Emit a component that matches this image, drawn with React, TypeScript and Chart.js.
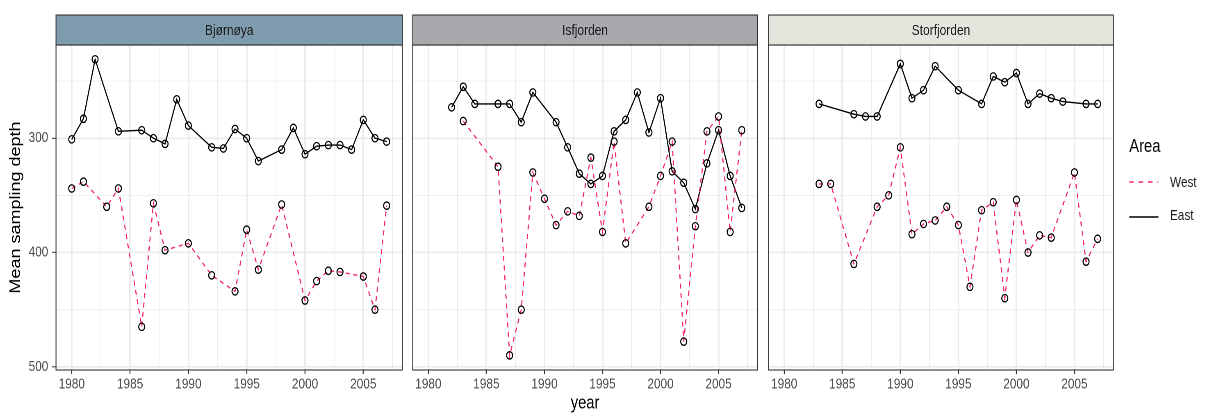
import React, { useEffect, useRef } from "react";
import { Chart, registerables } from "chart.js";

Chart.register(...registerables);

// The reference figure is horizontally squeezed; we draw in a wider virtual space and scale it.
const SQUEEZE = 0.82;
const VIRTUAL_WIDTH = 1207 / SQUEEZE;
const FONT = "'Liberation Sans', Arial, Helvetica, sans-serif";

// Axis ticks / grid positions
const xGridYears = [1980, 1982.5, 1985, 1987.5, 1990, 1992.5, 1995, 1997.5, 2000, 2002.5, 2005, 2007.5];
const yGridDepths = [250, 300, 350, 400, 450, 500];
const xRange = [1978.65, 2008.35];
const yRange = [218.5, 502.8];

// Bjørnøya
const bjornoyaEastYears = [1980, 1981, 1982, 1984, 1986, 1987, 1988, 1989, 1990, 1992, 1993, 1994, 1995, 1996, 1998, 1999, 2000, 2001, 2002, 2003, 2004, 2005, 2006, 2007];
const bjornoyaEastDepth = [301, 283, 231, 294, 293, 300, 305, 266, 289, 308, 309, 292, 300, 320, 310, 291, 314, 307, 306, 306, 310, 284, 300, 303];
const bjornoyaWestYears = [1980, 1981, 1983, 1984, 1986, 1987, 1988, 1990, 1992, 1994, 1995, 1996, 1998, 2000, 2001, 2002, 2003, 2005, 2006, 2007];
const bjornoyaWestDepth = [344, 338, 360, 344, 465, 357, 398, 392, 420, 434, 380, 415, 358, 442, 425, 416, 417, 421, 450, 359];

// Isfjorden
const isfjordenEastYears = [1982, 1983, 1984, 1986, 1987, 1988, 1989, 1991, 1992, 1993, 1994, 1995, 1996, 1997, 1998, 1999, 2000, 2001, 2002, 2003, 2004, 2005, 2006, 2007];
const isfjordenEastDepth = [273, 255, 270, 270, 270, 286, 260, 286, 308, 331, 340, 333, 294, 284, 260, 295, 265, 329, 339, 362, 322, 293, 333, 361];
const isfjordenWestYears = [1983, 1986, 1987, 1988, 1989, 1990, 1991, 1992, 1993, 1994, 1995, 1996, 1997, 1999, 2000, 2001, 2002, 2003, 2004, 2005, 2006, 2007];
const isfjordenWestDepth = [285, 325, 490, 450, 330, 353, 376, 364, 368, 317, 382, 303, 392, 360, 333, 303, 478, 377, 294, 281, 382, 293];

// Storfjorden
const storfjordenEastYears = [1983, 1986, 1987, 1988, 1990, 1991, 1992, 1993, 1995, 1997, 1998, 1999, 2000, 2001, 2002, 2003, 2004, 2006, 2007];
const storfjordenEastDepth = [270, 279, 281, 281, 235, 265, 258, 237, 258, 270, 246, 251, 243, 270, 261, 265, 268, 270, 270];
const storfjordenWestYears = [1983, 1984, 1986, 1988, 1989, 1990, 1991, 1992, 1993, 1994, 1995, 1996, 1997, 1998, 1999, 2000, 2001, 2002, 2003, 2005, 2006, 2007];
const storfjordenWestDepth = [340, 340, 410, 360, 350, 308, 384, 375, 372, 360, 376, 430, 363, 356, 440, 354, 400, 385, 387, 330, 408, 388];

const WEST_COLOR = "#f5245d";
const EAST_COLOR = "#000000";
const TICK_TEXT = "#4d4d4d";
const GRID = "#ebebeb";

const isMajorX = (v: number) => Math.abs(v % 5) < 1e-6;
const isMajorY = (v: number) => Math.abs(v % 100) < 1e-6;
const toPoints = (years: number[], depths: number[]) => years.map((x, i) => ({ x, y: depths[i] }));

const facetPlugin = {
  id: "facetStrip",
  beforeDraw(chart: any, _args: any, opts: any) {
    const { ctx, chartArea: a } = chart;
    ctx.save();
    ctx.fillStyle = opts.fill;
    ctx.fillRect(a.left, a.top - 30, a.right - a.left, 30);
    ctx.restore();
  },
  afterDraw(chart: any) {
    const { ctx, chartArea: a } = chart;
    ctx.save();
    ctx.strokeStyle = "#333333";
    ctx.lineWidth = 1.1;
    ctx.strokeRect(a.left, a.top - 30, a.right - a.left, 30);
    ctx.strokeRect(a.left, a.top, a.right - a.left, a.bottom - a.top);
    ctx.restore();
  },
};

type PanelProps = {
  label: string;
  stripColor: string;
  eastYears: number[];
  eastDepth: number[];
  westYears: number[];
  westDepth: number[];
  showY: boolean;
  showXTitle: boolean;
  left: number;
  width: number;
  padLeft: number;
  padRight: number;
};

function FacetPanel(p: PanelProps) {
  const ref = useRef<HTMLCanvasElement>(null);
  useEffect(() => {
    if (!ref.current) return;
    const pointStyle = {
      showLine: false,
      pointRadius: 3.7,
      pointBorderWidth: 1.3,
      pointBorderColor: "#000000",
      pointBackgroundColor: "rgba(0,0,0,0)",
      borderColor: "#000000",
    };
    const chart = new Chart(ref.current, {
      type: "line",
      data: {
        datasets: [
          { label: "East pts", data: toPoints(p.eastYears, p.eastDepth), ...pointStyle },
          { label: "West pts", data: toPoints(p.westYears, p.westDepth), ...pointStyle },
          {
            label: "West",
            data: toPoints(p.westYears, p.westDepth),
            borderColor: WEST_COLOR,
            borderWidth: 1.35,
            borderDash: [5, 4.5],
            pointRadius: 0,
            fill: false,
            tension: 0,
          },
          {
            label: "East",
            data: toPoints(p.eastYears, p.eastDepth),
            borderColor: EAST_COLOR,
            borderWidth: 1.35,
            pointRadius: 0,
            fill: false,
            tension: 0,
          },
        ] as any,
      },
      plugins: [facetPlugin],
      options: {
        animation: false,
        responsive: false,
        devicePixelRatio: 2,
        events: [],
        layout: { padding: { top: 15, bottom: 0, left: p.padLeft, right: p.padRight } },
        font: { family: FONT },
        plugins: {
          legend: { display: false },
          tooltip: { enabled: false },
          title: {
            display: true,
            text: p.label,
            fullSize: false,
            color: "#1a1a1a",
            font: { family: FONT, size: 14.6, weight: "normal" },
            padding: { top: 7.3, bottom: 5.2 },
          },
          facetStrip: { fill: p.stripColor },
        } as any,
        scales: {
          x: {
            type: "linear",
            min: xRange[0],
            max: xRange[1],
            afterBuildTicks: (s: any) => {
              s.ticks = xGridYears.map((v) => ({ value: v }));
            },
            afterFit: (s: any) => {
              s.height = 45;
            },
            ticks: {
              autoSkip: false,
              maxRotation: 0,
              color: TICK_TEXT,
              font: { family: FONT, size: 14.4 },
              padding: 2,
              callback: (v: any) => (isMajorX(Number(v)) ? String(v) : ""),
            },
            grid: {
              color: GRID,
              lineWidth: (c: any) => (c.tick && isMajorX(c.tick.value) ? 1.9 : 0.95),
              tickLength: 4,
              tickWidth: 1.2,
              tickColor: (c: any) => (c.tick && isMajorX(c.tick.value) ? "#333333" : "rgba(0,0,0,0)"),
            },
            border: { display: false },
            title: {
              display: p.showXTitle,
              text: "year",
              color: "#000000",
              font: { family: FONT, size: 18 },
              padding: { top: 0, bottom: 0.6 },
            },
          },
          y: {
            type: "linear",
            reverse: true,
            min: yRange[0],
            max: yRange[1],
            afterBuildTicks: (s: any) => {
              s.ticks = yGridDepths.map((v) => ({ value: v }));
            },
            afterFit: (s: any) => {
              s.width = p.showY ? 56 / SQUEEZE : 0;
            },
            ticks: {
              display: p.showY,
              autoSkip: false,
              color: TICK_TEXT,
              font: { family: FONT, size: 14.4 },
              padding: 4.5,
              callback: (v: any) => (isMajorY(Number(v)) ? String(v) : ""),
            },
            grid: {
              color: GRID,
              lineWidth: (c: any) => (c.tick && isMajorY(c.tick.value) ? 1.6 : 0.8),
              drawTicks: p.showY,
              tickLength: 4 / SQUEEZE,
              tickWidth: 1,
              tickColor: (c: any) => (c.tick && isMajorY(c.tick.value) ? "#333333" : "rgba(0,0,0,0)"),
            },
            border: { display: false },
            title: {
              display: p.showY,
              text: "Mean sampling depth",
              color: "#000000",
              font: { family: FONT, size: 18 },
              padding: { top: 8.5, bottom: 0 },
            },
          },
        },
      } as any,
    });
    return () => chart.destroy();
  }, []);
  return (
    <canvas
      ref={ref}
      width={p.width}
      height={415}
      style={{ position: "absolute", left: p.left, top: 0, width: p.width, height: 415 }}
    />
  );
}

function LegendKey({ dashed, color, top }: { dashed: boolean; color: string; top: number }) {
  return (
    <svg
      width={36}
      height={10}
      style={{ position: "absolute", left: 1377.2, top: top - 5 }}
    >
      <line
        x1={0}
        y1={5}
        x2={36}
        y2={5}
        stroke={color}
        strokeWidth={1.5}
        strokeDasharray={dashed ? "5.5 6" : undefined}
      />
    </svg>
  );
}

export default function App() {
  const PW = 423;
  return (
    <div
      style={{
        position: "fixed",
        left: 0,
        top: 0,
        width: 1207,
        height: 415,
        overflow: "hidden",
        background: "#ffffff",
      }}
    >
      <div
        style={{
          position: "absolute",
          left: 0,
          top: 0,
          width: VIRTUAL_WIDTH,
          height: 415,
          transform: `scaleX(${SQUEEZE})`,
          transformOrigin: "0 0",
          fontFamily: FONT,
        }}
      >
        <FacetPanel
          label="Bjørnøya"
          stripColor="#7f9cae"
          eastYears={bjornoyaEastYears}
          eastDepth={bjornoyaEastDepth}
          westYears={bjornoyaWestYears}
          westDepth={bjornoyaWestDepth}
          showY={true}
          showXTitle={false}
          left={0}
          width={496}
          padLeft={0}
          padRight={496 - 56 / SQUEEZE - PW}
        />
        <FacetPanel
          label="Isfjorden"
          stripColor="#a8a9ad"
          eastYears={isfjordenEastYears}
          eastDepth={isfjordenEastDepth}
          westYears={isfjordenWestYears}
          westDepth={isfjordenWestDepth}
          showY={false}
          showXTitle={true}
          left={497.9}
          width={431}
          padLeft={4}
          padRight={431 - 4 - PW}
        />
        <FacetPanel
          label="Storfjorden"
          stripColor="#e5e5dd"
          eastYears={storfjordenEastYears}
          eastDepth={storfjordenEastDepth}
          westYears={storfjordenWestYears}
          westDepth={storfjordenWestDepth}
          showY={false}
          showXTitle={false}
          left={931.5}
          width={431}
          padLeft={4}
          padRight={431 - 4 - PW}
        />
        <div
          style={{
            position: "absolute",
            left: 1377.2,
            top: 135.9,
            fontSize: 18,
            lineHeight: "21.6px",
            color: "#000000",
            whiteSpace: "nowrap",
          }}
        >
          Area
        </div>
        <LegendKey dashed={true} color={WEST_COLOR} top={182} />
        <div
          style={{
            position: "absolute",
            left: 1426.8,
            top: 182.3 - 8.5,
            fontSize: 14.4,
            lineHeight: "17.28px",
            color: "#1a1a1a",
            whiteSpace: "nowrap",
          }}
        >
          West
        </div>
        <LegendKey dashed={false} color={EAST_COLOR} top={216.5} />
        <div
          style={{
            position: "absolute",
            left: 1426.8,
            top: 215.7 - 8.5,
            fontSize: 14.4,
            lineHeight: "17.28px",
            color: "#1a1a1a",
            whiteSpace: "nowrap",
          }}
        >
          East
        </div>
      </div>
    </div>
  );
}
